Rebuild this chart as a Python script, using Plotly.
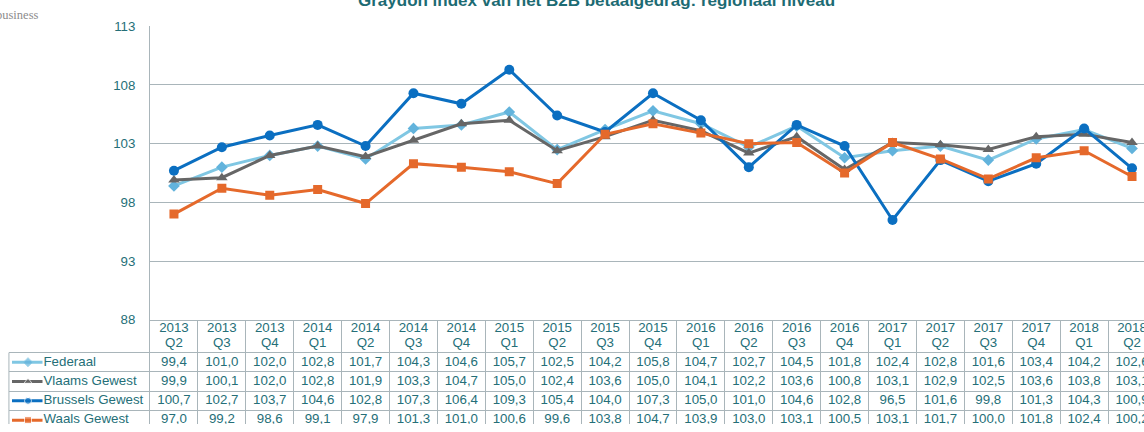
import plotly.graph_objects as go

# ---------------- data ----------------
categories = ["2013 Q2", "2013 Q3", "2013 Q4", "2014 Q1", "2014 Q2", "2014 Q3", "2014 Q4",
              "2015 Q1", "2015 Q2", "2015 Q3", "2015 Q4", "2016 Q1", "2016 Q2", "2016 Q3",
              "2016 Q4", "2017 Q1", "2017 Q2", "2017 Q3", "2017 Q4", "2018 Q1", "2018 Q2"]
federaal = [99.4, 101.0, 102.0, 102.8, 101.7, 104.3, 104.6, 105.7, 102.5, 104.2, 105.8,
            104.7, 102.7, 104.5, 101.8, 102.4, 102.8, 101.6, 103.4, 104.2, 102.6]
vlaams = [99.9, 100.1, 102.0, 102.8, 101.9, 103.3, 104.7, 105.0, 102.4, 103.6, 105.0,
          104.1, 102.2, 103.6, 100.8, 103.1, 102.9, 102.5, 103.6, 103.8, 103.1]
brussels = [100.7, 102.7, 103.7, 104.6, 102.8, 107.3, 106.4, 109.3, 105.4, 104.0, 107.3,
            105.0, 101.0, 104.6, 102.8, 96.5, 101.6, 99.8, 101.3, 104.3, 100.9]
waals = [97.0, 99.2, 98.6, 99.1, 97.9, 101.3, 101.0, 100.6, 99.6, 103.8, 104.7,
         103.9, 103.0, 103.1, 100.5, 103.1, 101.7, 100.0, 101.8, 102.4, 100.2]
series_names = ["Federaal", "Vlaams Gewest", "Brussels Gewest", "Waals Gewest"]
y_ticks = [88, 93, 98, 103, 108, 113]
title_text = "Graydon index van het B2B betaalgedrag: regionaal niveau"

# ---------------- style ----------------
W, H = 1144, 432
FONT = "Liberation Sans, Arial, sans-serif"
TEXT = "#256f78"
GRID = "#a9b5ba"
colors = ["#80c7e3", "#666666", "#0b6fc1", "#e5692b"]
marker_colors = ["#62b3dc", "#666666", "#0b6fc1", "#e5692b"]
symbols = ["diamond", "triangle-up", "circle", "square"]
msizes = [9, 10, 10, 9]
series = [federaal, vlaams, brussels, waals]

def px_x(p):
    return p / W

def px_y(p):
    return 1 - p / H

n = len(categories)
idx = list(range(n))

fig = go.Figure()

# main lines
for name, vals, c, mc, s, ms in zip(series_names, series, colors, marker_colors, symbols, msizes):
    fig.add_trace(go.Scatter(
        x=idx, y=vals, name=name, mode="lines+markers",
        line=dict(color=c, width=3),
        marker=dict(symbol=s, size=ms, color=mc),
        xaxis="x", yaxis="y", showlegend=False, hoverinfo="skip"))

# table header (years / quarters)
fig.add_trace(go.Scatter(
    x=idx, y=[-1.23] * n, text=[c.split()[0] for c in categories], mode="text",
    textfont=dict(family=FONT, size=13.3, color=TEXT),
    xaxis="x2", yaxis="y2", showlegend=False, hoverinfo="skip"))
fig.add_trace(go.Scatter(
    x=idx, y=[-0.48] * n, text=[c.split()[1] for c in categories], mode="text",
    textfont=dict(family=FONT, size=13.3, color=TEXT),
    xaxis="x2", yaxis="y2", showlegend=False, hoverinfo="skip"))

# table values
for i, vals in enumerate(series):
    fig.add_trace(go.Scatter(
        x=idx, y=[i + 0.5] * n,
        text=[f"{v:.1f}".replace(".", ",") for v in vals], mode="text",
        textfont=dict(family=FONT, size=13.3, color=TEXT),
        xaxis="x2", yaxis="y2", showlegend=False, hoverinfo="skip"))

# row header keys + names
for i, (name, c, mc, s) in enumerate(zip(series_names, colors, marker_colors, symbols)):
    fig.add_trace(go.Scatter(
        x=[3.5, 19.5, 34], y=[i + 0.5] * 3, mode="lines+markers",
        line=dict(color=c, width=3),
        marker=dict(symbol=s, size=[0, 7, 0], color=mc),
        xaxis="x3", yaxis="y2", showlegend=False, hoverinfo="skip"))
fig.add_trace(go.Scatter(
    x=[35] * len(series_names), y=[i + 0.5 for i in range(len(series_names))],
    text=series_names, mode="text", textposition="middle right",
    textfont=dict(family=FONT, size=13.3, color=TEXT),
    xaxis="x3", yaxis="y2", showlegend=False, hoverinfo="skip"))

x_dom = [px_x(150), 1]
fig.update_layout(
    width=W, height=H, autosize=False,
    margin=dict(l=0, r=0, t=0, b=0),
    paper_bgcolor="white", plot_bgcolor="white",
    font=dict(family=FONT, size=13.3, color=TEXT),
    xaxis=dict(domain=x_dom, range=[-0.5, 20.25], showgrid=False, zeroline=False,
               showticklabels=False, ticks="", showline=True, linecolor=GRID,
               linewidth=1, anchor="y", fixedrange=True),
    yaxis=dict(domain=[px_y(324), px_y(20)], range=[88, 113], tickvals=y_ticks,
               showgrid=True, gridcolor=GRID, gridwidth=1, zeroline=False,
               showline=True, linecolor=GRID, linewidth=1, ticks="",
               ticklabelstandoff=11, tickfont=dict(family=FONT, size=13.3, color=TEXT),
               anchor="x", fixedrange=True),
    xaxis2=dict(domain=x_dom, matches="x", range=[-0.5, 20.25],
                tickvals=[i - 0.5 for i in range(n + 1)], showgrid=True,
                gridcolor=GRID, gridwidth=1, showticklabels=False, ticks="",
                zeroline=False, showline=False, anchor="y2", fixedrange=True),
    yaxis2=dict(domain=[0, px_y(324)], range=[3.7, -1.7], tickvals=[0, 1, 2, 3, 4],
                showgrid=True, gridcolor=GRID, gridwidth=1, showticklabels=False,
                ticks="", zeroline=False, showline=True, linecolor=GRID, linewidth=1,
                anchor="x2", fixedrange=True),
    xaxis3=dict(domain=[px_x(8.5), px_x(150)], range=[0, 141.5], showgrid=False,
                showticklabels=False, ticks="", zeroline=False, showline=False,
                anchor="y2", fixedrange=True),
    shapes=[dict(type="line", xref="x3 domain", yref="y2", x0=0.003, x1=0.003,
                 y0=0, y1=3.7, line=dict(color=GRID, width=1))],
    annotations=[
        dict(text="<b>" + title_text + "</b>", xref="paper", yref="paper",
             x=px_x(596), y=px_y(5), xanchor="center", yanchor="bottom",
             showarrow=False, font=dict(family=FONT, size=17, color="#1d6b73")),
        dict(text="business", xref="paper", yref="paper", x=px_x(-6), y=px_y(8.5),
             xanchor="left", yanchor="middle", showarrow=False,
             font=dict(family="Liberation Serif, serif", size=12.5, color="#8c8c8c")),
    ],
)

fig.write_html(
    "out.html",
    config={"displayModeBar": False},
    post_script="document.body.style.margin='0';document.body.style.overflow='hidden';",
)
